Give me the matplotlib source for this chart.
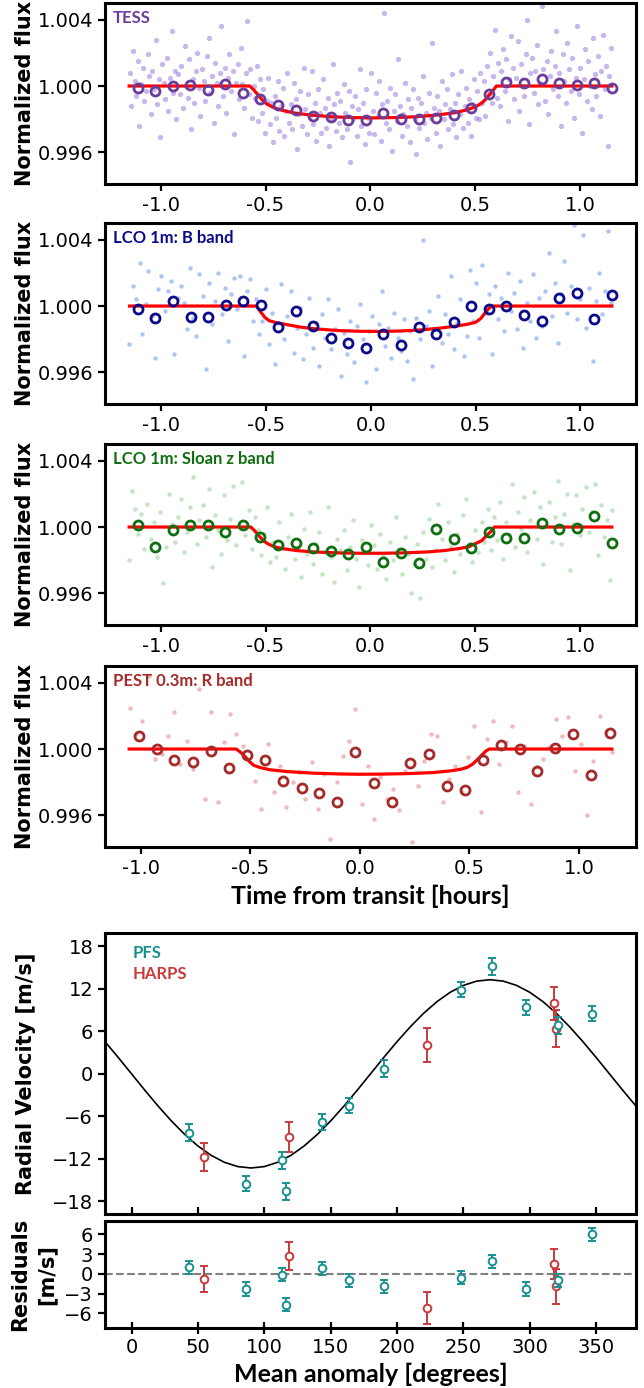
import matplotlib
matplotlib.use("Agg")
import matplotlib.pyplot as plt
from matplotlib.ticker import FormatStrFormatter, FixedLocator

# ---------------- light curve data (flux offsets in ppt) ----------------
bin_t = [-1.110, -1.027, -0.943, -0.859, -0.775, -0.692, -0.608, -0.525, -0.441, -0.357,
         -0.274, -0.190, -0.106, -0.022, 0.061, 0.145, 0.229, 0.312, 0.396, 0.480,
         0.564, 0.647, 0.731, 0.815, 0.898, 0.982, 1.066, 1.150]

tess_bin = [-0.14, -0.28, 0.00, 0.04, -0.24, 0.10, -0.45, -0.79, -1.15, -1.42,
            -1.82, -1.86, -2.02, -2.02, -1.62, -1.96, -1.96, -1.92, -1.76, -1.30,
            -0.51, 0.26, 0.18, 0.40, 0.18, 0.06, 0.18, -0.14]
lcob_bin = [-0.20, -0.75, 0.30, -0.65, -0.65, 0.06, 0.30, 0.06, -1.27, -0.32,
            -1.21, -1.92, -2.22, -2.53, -1.68, -2.32, -1.25, -1.66, -0.97, 0.00,
            -0.20, 0.00, -0.53, -0.93, 0.46, 0.77, -0.81, 0.65]
lcoz_bin = [0.10, -1.22, -0.16, 0.10, 0.14, -0.32, 0.14, -0.63, -1.10, -0.97,
            -1.24, -1.42, -1.64, -1.22, -2.09, -1.54, -2.15, -0.12, -0.71, -1.24,
            -0.32, -0.67, -0.67, 0.24, -0.12, -0.06, 0.65, -0.97]
pest_bin_t = [-1.011, -0.929, -0.847, -0.764, -0.680, -0.596, -0.516, -0.434, -0.350, -0.267,
              -0.187, -0.103, -0.021, 0.062, 0.144, 0.230, 0.314, 0.398, 0.479, 0.563,
              0.645, 0.729, 0.809, 0.892, 0.974, 1.056, 1.140]
pest_bin = [0.79, -0.02, -0.65, -0.81, -0.14, -1.14, -0.37, -0.65, -1.93, -2.36,
            -2.64, -3.17, -0.16, -2.05, -3.17, -0.83, -0.32, -2.23, -2.46, -0.69,
            0.24, 0.00, -1.30, 0.04, 0.91, -1.58, 0.95]

tess_model_t = [-1.15, -0.575, -0.555, -0.535, -0.515, -0.495, -0.465, -0.425, -0.365, -0.285,
                -0.185, -0.085, 0.015, 0.115, 0.215, 0.315, 0.395, 0.455, 0.495, 0.525,
                0.545, 0.565, 0.585, 0.600, 1.15]
tess_model = [0.0, 0.0, -0.25, -0.55, -0.85, -1.07, -1.28, -1.45, -1.62, -1.75,
              -1.85, -1.90, -1.92, -1.90, -1.85, -1.75, -1.62, -1.45, -1.28, -1.07,
              -0.85, -0.55, -0.25, 0.0, 0.0]
lcob_model_t = [-1.15, -0.545, -0.525, -0.505, -0.485, -0.45, -0.40, -0.33, -0.26, -0.15,
                -0.05, 0.05, 0.15, 0.25, 0.33, 0.40, 0.46, 0.50, 0.525, 0.545,
                0.565, 0.58, 1.15]
lcob_model = [0.0, 0.0, -0.35, -0.68, -0.88, -1.00, -1.12, -1.28, -1.38, -1.48,
              -1.52, -1.53, -1.50, -1.43, -1.33, -1.22, -1.10, -0.98, -0.75, -0.42,
              -0.12, 0.0, 0.0]
lcoz_model_t = [-1.15, -0.57, -0.55, -0.53, -0.51, -0.49, -0.46, -0.42, -0.35, -0.27,
                -0.15, -0.05, 0.05, 0.15, 0.27, 0.35, 0.42, 0.47, 0.50, 0.53,
                0.55, 0.575, 0.59, 1.15]
lcoz_model = [0.0, 0.0, -0.25, -0.55, -0.82, -1.00, -1.18, -1.30, -1.42, -1.50,
              -1.56, -1.58, -1.58, -1.56, -1.50, -1.42, -1.30, -1.18, -1.00, -0.82,
              -0.55, -0.25, 0.0, 0.0]
pest_model_t = [-1.054, -0.565, -0.545, -0.525, -0.505, -0.485, -0.455, -0.41, -0.33, -0.22,
                -0.10, 0.0, 0.10, 0.22, 0.33, 0.41, 0.46, 0.49, 0.515, 0.535,
                0.555, 0.575, 0.59, 1.15]
pest_model = [0.0, 0.0, -0.20, -0.45, -0.75, -0.98, -1.12, -1.25, -1.36, -1.45,
              -1.50, -1.52, -1.51, -1.48, -1.42, -1.32, -1.22, -1.10, -0.90, -0.65,
              -0.38, -0.12, 0.0, 0.0]

# unbinned measurements (ppt)
tess_t = [-1.148, -1.140, -1.133, -1.124, -1.117, -1.108, -1.101, -1.093, -1.086, -1.078,
          -1.071, -1.062, -1.055, -1.047, -1.040, -1.031, -1.024, -1.016, -1.009, -1.001,
          -0.994, -0.986, -0.978, -0.971, -0.963, -0.955, -0.948, -0.940, -0.932, -0.925,
          -0.917, -0.909, -0.902, -0.894, -0.886, -0.879, -0.871, -0.863, -0.856, -0.848,
          -0.840, -0.833, -0.825, -0.817, -0.810, -0.802, -0.794, -0.787, -0.779, -0.771,
          -0.764, -0.756, -0.748, -0.741, -0.733, -0.725, -0.718, -0.710, -0.702, -0.695,
          -0.687, -0.679, -0.672, -0.664, -0.656, -0.649, -0.641, -0.633, -0.626, -0.618,
          -0.610, -0.603, -0.595, -0.587, -0.580, -0.572, -0.564, -0.557, -0.549, -0.541,
          -0.534, -0.526, -0.518, -0.511, -0.503, -0.495, -0.488, -0.480, -0.472, -0.465,
          -0.457, -0.449, -0.442, -0.434, -0.426, -0.419, -0.411, -0.403, -0.396, -0.388,
          -0.380, -0.373, -0.365, -0.357, -0.350, -0.342, -0.334, -0.327, -0.319, -0.311,
          -0.304, -0.296, -0.288, -0.281, -0.273, -0.265, -0.258, -0.250, -0.242, -0.235,
          -0.227, -0.219, -0.212, -0.204, -0.196, -0.189, -0.181, -0.173, -0.166, -0.158,
          -0.150, -0.143, -0.135, -0.127, -0.120, -0.112, -0.104, -0.097, -0.089, -0.081,
          -0.074, -0.066, -0.058, -0.051, -0.043, -0.035, -0.028, -0.020, -0.012, -0.005,
          0.003, 0.011, 0.018, 0.026, 0.034, 0.041, 0.049, 0.057, 0.064, 0.072,
          0.080, 0.087, 0.095, 0.103, 0.110, 0.118, 0.126, 0.133, 0.141, 0.149,
          0.156, 0.164, 0.172, 0.179, 0.187, 0.195, 0.202, 0.210, 0.218, 0.225,
          0.233, 0.241, 0.248, 0.256, 0.264, 0.271, 0.279, 0.287, 0.294, 0.302,
          0.310, 0.317, 0.325, 0.333, 0.340, 0.348, 0.356, 0.363, 0.371, 0.379,
          0.386, 0.394, 0.402, 0.409, 0.417, 0.425, 0.432, 0.440, 0.448, 0.455,
          0.463, 0.471, 0.478, 0.486, 0.494, 0.501, 0.509, 0.517, 0.524, 0.532,
          0.540, 0.547, 0.555, 0.563, 0.570, 0.578, 0.586, 0.593, 0.601, 0.609,
          0.616, 0.624, 0.632, 0.639, 0.647, 0.655, 0.662, 0.670, 0.678, 0.685,
          0.693, 0.701, 0.708, 0.716, 0.724, 0.731, 0.739, 0.747, 0.754, 0.762,
          0.770, 0.777, 0.785, 0.793, 0.800, 0.808, 0.816, 0.823, 0.831, 0.839,
          0.846, 0.854, 0.862, 0.869, 0.877, 0.885, 0.892, 0.900, 0.908, 0.915,
          0.923, 0.931, 0.938, 0.946, 0.954, 0.961, 0.969, 0.977, 0.984, 0.992,
          1.000, 1.007, 1.015, 1.023, 1.030, 1.038, 1.046, 1.053, 1.061, 1.069,
          1.076, 1.084, 1.092, 1.099, 1.107, 1.115, 1.122, 1.130, 1.138, 1.146]
tess_f = [0.8, -1.2, 2.1, 0.3, -0.6, 1.5, -2.4, 0.1, 1.1, -0.9,
          -0.3, 1.9, 0.6, -1.7, 0.9, -0.2, 2.8, -1.1, 0.4, -3.1,
          1.3, 0.2, -0.8, 1.7, -1.5, 0.5, 3.3, -0.4, 0.9, -2.0,
          0.7, -0.5, 1.2, -1.3, 2.4, 0.0, -0.7, 1.6, -2.6, 0.4,
          -1.0, 0.9, 2.0, -0.1, -1.8, 1.0, 0.3, -0.9, 1.8, 2.9,
          -0.4, 0.6, -2.2, 1.4, 0.2, -1.2, 0.8, 3.6, -0.6, 1.1,
          -1.6, 0.5, 1.9, -0.3, 0.9, -2.9, 0.2, 1.3, -0.8, 2.3,
          0.1, -1.3, 0.8, 3.9, -0.5, 1.0, -1.9, 0.0, -0.7, 1.2,
          -2.1, 0.4, -1.6, -0.2, -2.8, -0.9, 0.5, -2.3, -1.0, -3.4,
          -0.6, -1.9, 0.3, -2.7, -1.2, -0.1, -3.0, -1.5, 0.8, -2.2,
          -1.1, -2.6, 0.2, -0.8, -3.8, -1.7, -0.3, -2.4, 1.1, -1.4,
          -2.9, -0.5, -1.8, 0.9, -2.3, -1.0, -3.3, -0.2, -1.6, -2.8,
          0.4, -1.3, -2.5, -0.7, -3.6, -1.9, 1.3, -1.1, -2.7, -0.4,
          -2.2, -0.9, -3.1, 0.1, -1.6, -2.6, -0.3, -4.6, -1.2, -2.0,
          -0.6, -3.0, -1.4, 1.0, -2.4, -1.0, -3.5, -0.2, -1.9, -2.8,
          0.8, -1.5, -2.9, -0.4, -1.8, 0.3, -3.3, -1.1, 4.4, -2.2,
          -0.9, -2.6, -0.1, -3.9, -1.5, -0.5, -2.1, 1.6, -1.2, -3.0,
          -1.7, 0.2, -2.4, -0.8, -3.4, -1.3, -0.2, -2.0, -4.1, -0.7,
          -2.5, -1.0, 0.6, -2.2, -1.6, -3.2, -0.4, -1.9, 2.6, -1.3,
          -2.8, -0.6, -1.5, -3.6, 0.3, -2.0, -1.1, -0.2, -2.6, -1.4,
          0.7, -2.3, -1.0, -3.1, -0.5, -1.7, 0.9, -2.5, -1.2, -0.1,
          -2.2, -0.8, -3.0, -1.1, 0.4, -1.9, -0.3, -2.0, 0.8, -1.0,
          0.3, -1.8, 1.2, -0.5, 2.0, -1.0, 0.6, 3.4, -0.7, 1.4,
          -1.2, 0.9, 2.2, -0.3, 1.6, -2.1, 0.4, 3.0, 1.1, -0.8,
          0.5, 2.7, -1.5, 1.3, 0.0, -0.6, 1.9, 4.0, -2.3, 0.8,
          1.7, -0.4, 0.9, 2.5, -1.1, 0.2, 4.8, 1.0, -0.9, 1.5,
          -1.7, 0.6, 2.1, -0.2, 1.2, 3.3, -0.6, 0.8, -2.4, 1.9,
          0.3, -1.0, 2.6, 1.0, -0.3, 1.7, -1.9, 0.5, 3.6, -0.5,
          1.1, -2.8, 0.4, 2.2, -0.9, 1.5, 0.0, -1.4, 2.9, 0.7,
          -0.6, 1.8, -1.8, 0.9, 3.1, -0.2, 1.2, -3.6, 0.6, 2.3]

lcob_t = [-1.152, -1.133, -1.118, -1.102, -1.090, -1.071, -1.060, -1.041, -1.030, -1.012,
          -0.998, -0.983, -0.967, -0.951, -0.939, -0.921, -0.907, -0.892, -0.876, -0.861,
          -0.848, -0.832, -0.817, -0.801, -0.787, -0.771, -0.757, -0.742, -0.726, -0.711,
          -0.697, -0.681, -0.667, -0.651, -0.636, -0.622, -0.606, -0.591, -0.577, -0.561,
          -0.546, -0.532, -0.517, -0.501, -0.487, -0.471, -0.457, -0.441, -0.427, -0.412,
          -0.397, -0.382, -0.367, -0.352, -0.337, -0.322, -0.307, -0.292, -0.277, -0.262,
          -0.247, -0.232, -0.217, -0.202, -0.187, -0.172, -0.157, -0.142, -0.127, -0.112,
          -0.097, -0.082, -0.067, -0.052, -0.037, -0.022, -0.007, 0.008, 0.023, 0.038,
          0.053, 0.068, 0.083, 0.098, 0.113, 0.128, 0.143, 0.158, 0.173, 0.188,
          0.203, 0.218, 0.233, 0.248, 0.263, 0.278, 0.293, 0.308, 0.323, 0.338,
          0.353, 0.368, 0.383, 0.398, 0.413, 0.428, 0.443, 0.458, 0.473, 0.488,
          0.503, 0.518, 0.533, 0.548, 0.563, 0.578, 0.593, 0.608, 0.623, 0.638,
          0.653, 0.668, 0.683, 0.698, 0.713, 0.728, 0.743, 0.758, 0.773, 0.788,
          0.803, 0.818, 0.833, 0.848, 0.863, 0.878, 0.893, 0.908, 0.923, 0.938,
          0.953, 0.968, 0.983, 0.998, 1.013, 1.028, 1.043, 1.058, 1.073, 1.088,
          1.103, 1.118, 1.133, 1.148]
lcob_f = [-2.3, 1.2, 0.4, 2.6, -1.7, 0.1, 2.1, -0.6, -3.1, 1.0,
          1.8, -0.3, 0.9, 1.5, -2.9, 0.5, 1.2, 0.2, -1.4, 2.3,
          -0.7, -1.8, 1.9, 0.6, -3.8, 1.4, -1.1, 0.3, 2.0, -0.5,
          1.1, -2.1, 0.7, 1.7, -0.2, 1.8, -3.0, 0.9, 1.6, -0.9,
          0.4, -1.7, -0.9, 1.0, -2.3, -0.4, -3.5, -1.0, 1.3, -2.0,
          -0.6, 0.9, -2.8, -1.3, -0.1, -3.2, -1.7, 0.5, -2.5, -1.0,
          -3.6, -0.5, -1.9, 0.4, -2.6, -1.4, -0.2, -4.2, -1.6, -2.9,
          -0.9, -3.4, -1.2, 0.1, -2.0, -4.6, -1.5, -0.6, -3.8, -1.1,
          0.9, -2.4, -1.3, -3.1, -0.4, -1.9, -2.7, -0.8, -3.3, -1.5,
          -4.4, -0.7, -2.0, 4.0, -1.2, -0.3, -3.6, -1.4, 0.6, -2.2,
          -0.5, -1.7, 1.8, -2.6, -1.0, 0.4, -3.0, -1.8, 2.2, -0.9,
          1.4, -1.9, 2.5, -0.4, 0.7, -2.9, 1.2, -0.8, 0.5, -1.5,
          2.0, -0.3, 0.8, -1.4, 1.5, -2.5, 0.2, -0.9, 1.9, -1.9,
          0.5, -1.2, 0.9, 3.2, -0.6, 1.4, -2.2, 0.7, 2.7, -0.4,
          1.2, 4.9, -0.8, 0.4, 4.3, -1.3, 1.1, -3.3, 0.3, 2.0,
          -0.5, 0.9, 4.5, 0.2]

lcoz_t = [-1.150, -1.136, -1.121, -1.106, -1.092, -1.077, -1.063, -1.048, -1.033, -1.019,
          -1.004, -0.990, -0.975, -0.961, -0.946, -0.931, -0.917, -0.902, -0.888, -0.873,
          -0.858, -0.844, -0.829, -0.815, -0.800, -0.785, -0.771, -0.756, -0.742, -0.727,
          -0.712, -0.698, -0.683, -0.669, -0.654, -0.639, -0.625, -0.610, -0.596, -0.581,
          -0.566, -0.552, -0.537, -0.523, -0.508, -0.493, -0.479, -0.464, -0.450, -0.435,
          -0.420, -0.406, -0.391, -0.377, -0.362, -0.347, -0.333, -0.318, -0.304, -0.289,
          -0.274, -0.260, -0.245, -0.231, -0.216, -0.201, -0.187, -0.172, -0.158, -0.143,
          -0.128, -0.114, -0.099, -0.085, -0.070, -0.055, -0.041, -0.026, -0.012, 0.003,
          0.018, 0.032, 0.047, 0.061, 0.076, 0.091, 0.105, 0.120, 0.134, 0.149,
          0.164, 0.178, 0.193, 0.207, 0.222, 0.237, 0.251, 0.266, 0.280, 0.295,
          0.310, 0.324, 0.339, 0.353, 0.368, 0.383, 0.397, 0.412, 0.426, 0.441,
          0.456, 0.470, 0.485, 0.499, 0.514, 0.529, 0.543, 0.558, 0.572, 0.587,
          0.602, 0.616, 0.631, 0.645, 0.660, 0.675, 0.689, 0.704, 0.718, 0.733,
          0.748, 0.762, 0.777, 0.791, 0.806, 0.821, 0.835, 0.850, 0.864, 0.879,
          0.894, 0.908, 0.923, 0.937, 0.952, 0.967, 0.981, 0.996, 1.010, 1.025,
          1.040, 1.054, 1.069, 1.083, 1.098, 1.112, 1.127, 1.141, 1.150]
lcoz_f = [-2.0, 2.2, 1.1, -0.4, 0.8, -1.3, 1.4, -0.7, 0.3, -1.8,
          0.9, -3.4, -1.2, 2.0, 0.2, -0.9, 0.6, 1.7, -1.5, -0.3,
          1.2, 3.0, -1.0, 0.4, 1.3, -0.6, 2.3, -2.4, 0.7, -0.2,
          -1.6, 1.9, -0.8, 0.5, 2.5, -1.1, 0.1, 2.7, -0.5, 1.0,
          -1.3, 0.6, -0.2, -1.7, -0.4, 1.2, -2.1, -0.9, -1.8, 0.3,
          -1.2, -2.5, -0.6, 0.8, -1.9, -1.3, -3.0, -0.1, -1.6, 0.9,
          -2.2, -1.0, -0.3, -2.8, -1.5, 1.2, -1.8, -3.3, -0.7, -1.4,
          -0.2, -2.6, -1.2, 0.4, -1.9, -3.6, -0.8, -1.5, -2.3, 0.1,
          -1.1, -2.5, -0.4, -1.7, -3.1, -0.9, -2.0, 0.6, -1.3, -2.8,
          -0.6, -1.6, -4.0, -2.2, -1.0, -4.3, -0.3, -1.9, 0.5, -2.4,
          -1.4, 1.4, -0.7, -2.0, 0.3, -1.2, -2.7, -0.4, -1.6, 0.7,
          1.7, -1.0, -2.1, -0.2, -1.5, 0.3, -0.9, 1.1, -1.4, 0.6,
          -0.8, 1.5, -1.9, 0.3, -0.5, 2.6, -1.2, 0.9, -0.1, 1.8,
          -1.5, 0.4, 2.1, -0.7, 1.2, -2.2, 0.1, 1.5, -0.9, 0.6,
          2.8, -1.0, 0.8, 2.0, -2.6, 0.2, 1.9, -0.5, 1.1, 2.4,
          -0.3, 0.9, 2.6, -1.7, 1.3, -0.6, 0.4, -3.2, 1.0]

pest_t = [-1.050, -1.021, -0.993, -0.962, -0.935, -0.905, -0.878, -0.850, -0.821, -0.792,
          -0.764, -0.736, -0.707, -0.679, -0.650, -0.621, -0.593, -0.565, -0.536, -0.507,
          -0.479, -0.450, -0.421, -0.393, -0.364, -0.336, -0.307, -0.278, -0.250, -0.221,
          -0.193, -0.164, -0.135, -0.107, -0.078, -0.050, -0.021, 0.008, 0.036, 0.065,
          0.093, 0.122, 0.150, 0.179, 0.207, 0.236, 0.265, 0.293, 0.322, 0.350,
          0.379, 0.408, 0.436, 0.465, 0.493, 0.522, 0.551, 0.579, 0.608, 0.636,
          0.665, 0.694, 0.722, 0.751, 0.779, 0.808, 0.837, 0.865, 0.894, 0.922,
          0.951, 0.980, 1.008, 1.037, 1.065, 1.094, 1.122, 1.150]
pest_f = [2.5, 0.9, 1.7, 4.4, -0.6, -0.3, 0.8, 2.2, -0.9, 0.5,
          -1.2, 3.6, -3.0, 2.2, -3.2, 0.4, 2.1, 0.9, 0.2, 4.3,
          -1.9, -3.6, 0.3, -2.6, -1.0, -3.5, -2.0, -1.4, -3.0, -0.8,
          -3.6, -1.5, -5.4, -2.0, -0.4, 0.5, 2.4, -3.3, -1.0, -4.2,
          -1.7, -3.0, -2.4, -3.7, -1.3, -5.6, -2.2, -0.7, 0.9, 0.8,
          -3.2, -1.8, -1.0, -2.6, -0.5, 1.4, -3.8, 0.6, 1.7, -0.9,
          0.4, 1.4, -2.6, 0.2, -3.3, -1.1, -0.6, 0.1, 1.8, 0.8,
          1.9, -1.3, 0.3, -4.0, -0.7, 2.0, 1.0, -0.2]

# ---------------- radial velocity data ----------------
pfs_x = [43.6, 86.0, 113.5, 116.6, 143.6, 163.5, 190.0, 248.5, 271.5, 297.0, 321.5, 346.6]
pfs_rv = [-8.3, -15.5, -12.2, -16.6, -6.8, -4.5, 0.7, 11.9, 15.2, 9.4, 6.9, 8.5]
pfs_err = [1.2, 1.1, 1.2, 1.2, 1.1, 1.1, 1.2, 1.1, 1.2, 1.1, 1.2, 1.1]
pfs_res = [0.96, -2.3, -0.15, -4.7, 0.86, -0.96, -1.9, -0.6, 1.9, -2.3, -0.96, 6.0]
harps_x = [54.6, 118.4, 222.4, 318.0, 319.5]
harps_rv = [-11.7, -8.95, 4.1, 9.95, 6.4]
harps_err = [2.0, 2.1, 2.4, 2.3, 2.6]
harps_res = [-0.8, 2.7, -5.15, 1.46, -1.9]

rv_model_x = [-20, -10, 0, 10, 20, 30, 40, 50, 60, 70, 80, 90, 100, 110, 120, 130, 140,
              150, 160, 170, 180, 190, 200, 210, 220, 230, 240, 250, 260, 270, 280, 290,
              300, 310, 320, 330, 340, 350, 360, 370, 380]
rv_model = [4.55, 2.31, 0.0, -2.31, -4.55, -6.65, -8.55, -10.19, -11.52, -12.50, -13.10,
            -13.30, -13.10, -12.50, -11.52, -10.19, -8.55, -6.65, -4.55, -2.31, 0.0, 2.31,
            4.55, 6.65, 8.55, 10.19, 11.52, 12.50, 13.10, 13.30, 13.10, 12.50, 11.52, 10.19,
            8.55, 6.65, 4.55, 2.31, 0.0, -2.31, -4.55]


def flux(v):
    return [1 + x * 1e-3 for x in v]


fig = plt.figure(figsize=(6.44, 13.88), dpi=100)
L, W = 0.16304, 0.82453
lc_bottoms = [0.86744, 0.70893, 0.54971, 0.38977]
lc_h = 0.13040

panels = [
    ("TESS", tess_t, tess_f, bin_t, tess_bin, tess_model_t, tess_model,
     "#9370db", 0.5, 3.8, "#6a3d9a"),
    ("LCO 1m: B band", lcob_t, lcob_f, bin_t, lcob_bin, lcob_model_t, lcob_model,
     "#6f95ea", 0.55, 3.2, "#0a0a8a"),
    ("LCO 1m: Sloan z band", lcoz_t, lcoz_f, bin_t, lcoz_bin, lcoz_model_t, lcoz_model,
     "#8cc98c", 0.5, 3.2, "#0f6e0f"),
    ("PEST 0.3m: R band", pest_t, pest_f, pest_bin_t, pest_bin, pest_model_t, pest_model,
     "#e09090", 0.6, 3.2, "#a52a2a"),
]

tick_kw = dict(labelsize=14, width=1.6, length=5, direction="out")

for i, (name, rt, rf, bt, bf, mt, mf, rawc, rawa, rawms, binc) in enumerate(panels):
    ax = fig.add_axes([L, lc_bottoms[i], W, lc_h])
    ax.plot(rt, flux(rf), "o", color=rawc, alpha=rawa, ms=rawms, mew=0, zorder=1)
    ax.plot(mt, flux(mf), color="red", lw=2.3, zorder=2)
    ax.plot(bt, flux(bf), "o", mfc="none", mec=binc, ms=6.5, mew=2.0, zorder=3)
    ax.set_ylim(0.9941, 1.005)
    ax.yaxis.set_major_locator(FixedLocator([0.996, 1.000, 1.004]))
    ax.yaxis.set_major_formatter(FormatStrFormatter("%.3f"))
    ax.xaxis.set_major_locator(FixedLocator([-1.0, -0.5, 0.0, 0.5, 1.0]))
    ax.xaxis.set_major_formatter(FormatStrFormatter("%.1f"))
    ax.tick_params(**tick_kw)
    for s in ax.spines.values():
        s.set_linewidth(2.2)
    ax.set_ylabel("Normalized flux", fontsize=15, fontweight="bold")
    ax.yaxis.set_label_coords(-0.132, 0.5)
    ax.text(0.015, 0.915, name, transform=ax.transAxes, color=binc,
            fontsize=12, fontweight="bold", family="Lato", va="center")
    if i == 3:
        ax.set_xlabel("Time from transit [hours]", fontsize=18, fontweight="bold",
                      family="Lato", labelpad=5)

pfs_c = "#1a9090"
harps_c = "#c93a3c"

# RV panel
ax = fig.add_axes([L, 0.12536, W, 0.20245])
ax.plot(rv_model_x, rv_model, color="black", lw=1.2, zorder=1)
ax.errorbar(pfs_x, pfs_rv, yerr=pfs_err, fmt="o", mfc="white", mec=pfs_c, ecolor=pfs_c,
            ms=5.5, mew=1.4, elinewidth=1.4, capsize=3, capthick=1.4, zorder=3)
ax.errorbar(harps_x, harps_rv, yerr=harps_err, fmt="o", mfc="white", mec=harps_c,
            ecolor=harps_c, ms=5.5, mew=1.4, elinewidth=1.4, capsize=3, capthick=1.4, zorder=2)
ax.set_xlim(-20, 380)
ax.set_ylim(-19.8, 19.9)
ax.set_yticks([-18, -12, -6, 0, 6, 12, 18])
ax.set_xticks([0, 50, 100, 150, 200, 250, 300, 350])
ax.tick_params(axis="y", **tick_kw)
ax.tick_params(axis="x", direction="in", length=5, width=1.6, labelbottom=False)
for s in ax.spines.values():
    s.set_linewidth(2.2)
ax.set_ylabel("Radial Velocity [m/s]", fontsize=15, fontweight="bold")
ax.yaxis.set_label_coords(-0.13, 0.5)
ax.text(0.052, 0.929, "PFS", transform=ax.transAxes, color=pfs_c, fontsize=12,
        fontweight="bold", family="Lato", va="center")
ax.text(0.052, 0.854, "HARPS", transform=ax.transAxes, color=harps_c, fontsize=12,
        fontweight="bold", family="Lato", va="center")

# residuals panel
ax = fig.add_axes([L, 0.04323, W, 0.07709])
ax.axhline(0, color="gray", ls="--", lw=1.5, zorder=1)
ax.errorbar(pfs_x, pfs_res, yerr=[1.0] * len(pfs_x), fmt="o", mfc="white", mec=pfs_c,
            ecolor=pfs_c, ms=5.5, mew=1.4, elinewidth=1.4, capsize=3, capthick=1.4, zorder=3)
ax.errorbar(harps_x, harps_res, yerr=harps_err, fmt="o", mfc="white", mec=harps_c,
            ecolor=harps_c, ms=5.5, mew=1.4, elinewidth=1.4, capsize=3, capthick=1.4, zorder=2)
ax.set_xlim(-20, 380)
ax.set_ylim(-8.2, 8.0)
ax.set_yticks([-6, -3, 0, 3, 6])
ax.set_xticks([0, 50, 100, 150, 200, 250, 300, 350])
ax.tick_params(axis="y", **tick_kw)
ax.tick_params(axis="x", direction="inout", length=8, width=1.6, labelsize=14)
for s in ax.spines.values():
    s.set_linewidth(2.2)
ax.set_ylabel("Residuals\n[m/s]", fontsize=15, fontweight="bold", linespacing=1.4)
ax.yaxis.set_label_coords(-0.092, 0.5)
ax.set_xlabel("Mean anomaly [degrees]", fontsize=18, fontweight="bold", family="Lato",
              labelpad=4)

fig.savefig("out.png", dpi=100)
